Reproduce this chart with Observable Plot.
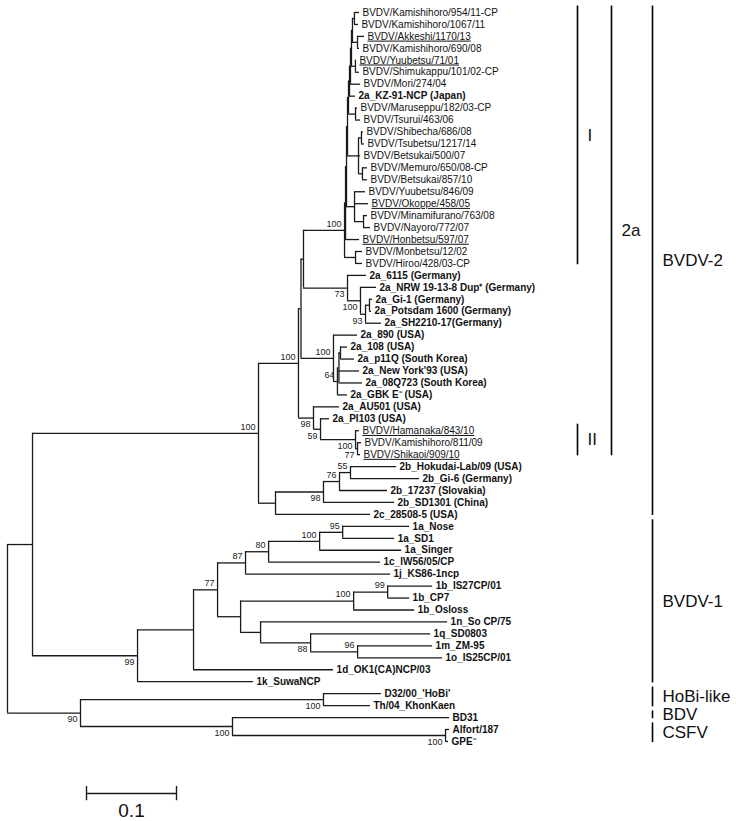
<!DOCTYPE html>
<html>
<head>
<meta charset="utf-8">
<script src="https://cdn.jsdelivr.net/npm/d3@7"></script>
<script src="https://cdn.jsdelivr.net/npm/@observablehq/plot@0.6"></script>
<style>
  html, body { margin: 0; padding: 0; background: #fff; }
  #chart { width: 736px; height: 821px; }
</style>
</head>
<body>
<div id="chart"></div>
<script>
// ---------- DATA ----------
// Leaves, top to bottom
const leafLabels = [
  "BVDV/Kamishihoro/954/11-CP","BVDV/Kamishihoro/1067/11","BVDV/Akkeshi/1170/13","BVDV/Kamishihoro/690/08",
  "BVDV/Yuubetsu/71/01","BVDV/Shimukappu/101/02-CP","BVDV/Mori/274/04","2a_KZ-91-NCP (Japan)",
  "BVDV/Maruseppu/182/03-CP","BVDV/Tsurui/463/06","BVDV/Shibecha/686/08","BVDV/Tsubetsu/1217/14",
  "BVDV/Betsukai/500/07","BVDV/Memuro/650/08-CP","BVDV/Betsukai/857/10","BVDV/Yuubetsu/846/09",
  "BVDV/Okoppe/458/05","BVDV/Minamifurano/763/08","BVDV/Nayoro/772/07","BVDV/Honbetsu/597/07",
  "BVDV/Monbetsu/12/02","BVDV/Hiroo/428/03-CP","2a_6115 (Germany)","2a_NRW 19-13-8 Dup\u207A (Germany)",
  "2a_Gi-1 (Germany)","2a_Potsdam 1600 (Germany)","2a_SH2210-17(Germany)","2a_890 (USA)",
  "2a_108 (USA)","2a_p11Q (South Korea)","2a_New York'93 (USA)","2a_08Q723 (South Korea)",
  "2a_GBK E\u207B (USA)","2a_AU501 (USA)","2a_PI103 (USA)","BVDV/Hamanaka/843/10",
  "BVDV/Kamishihoro/811/09","BVDV/Shikaoi/909/10","2b_Hokudai-Lab/09 (USA)","2b_Gi-6 (Germany)",
  "2b_17237 (Slovakia)","2b_SD1301 (China)","2c_28508-5 (USA)","1a_Nose",
  "1a_SD1","1a_Singer","1c_IW56/05/CP","1j_KS86-1ncp",
  "1b_IS27CP/01","1b_CP7","1b_Osloss","1n_So CP/75",
  "1q_SD0803","1m_ZM-95","1o_IS25CP/01","1d_OK1(CA)NCP/03",
  "1k_SuwaNCP","D32/00_'HoBi'","Th/04_KhonKaen","BD31",
  "Alfort/187","GPE\u207B"
];
const leafParents = [
  "P1","P1","P2","P2","P3","P3","L3","L4","P6","P6","SS","SS","S","SM","SM","Y","Y","YM","YM","L8",
  "P10","P10","T73","T100","GP","GP","T93","G890","I1","I1","I2","I2","C108","AU","PI","H",
  "H2","H2","N55","N55","N76","N98","N2bc","N95","N95","N1a","N80","N87","B2","B2","B1b","P",
  "N88","N96","N96","V1a","V1","HB","HB","BC","CS","CS"
];
const leafLengths = [
  0.0056,0.0044,0.0078,0.0022,0.0011,0.0044,0.0111,0.0067,0.0022,0.0056,0.0022,0.0033,0.0022,0.0056,0.0056,0.0122,
  0.0156,0.0044,0.0078,0.0156,0.0078,0.0078,0.0211,0.0178,0.0033,0.0022,0.0178,0.0267,0.0078,0.0156,0.0228,0.0261,
  0.0111,0.0289,0.0100,0.0044,0.0044,0.0033,0.0511,0.0767,0.0533,0.0789,0.1056,0.0744,0.0578,0.0911,0.1244,0.1611,
  0.0500,0.0244,0.0678,0.2078,0.1333,0.0833,0.0944,0.1556,0.1289,0.0644,0.0522,0.2411,0.0044,0.0033
];
const underlinedLeaves = ["BVDV/Akkeshi/1170/13","BVDV/Yuubetsu/71/01","BVDV/Okoppe/458/05",
  "BVDV/Honbetsu/597/07","BVDV/Hamanaka/843/10","BVDV/Shikaoi/909/10"];

// Internal nodes
const nodeIds     = ["root","V12","V2","A2a","A","X","J","L8","L7","L6","L5","L4","L3","L2","L1","P1","P2","P3","P6","S","SS","SM","Y","YM","P10",
  "T73","T100","T93","GP","G890","C108","I2","I1","AU","PI","H","H2","N2bc","N98","N76","N55",
  "V1","V1a","K","N87","N80","N1a","N95","M","B1b","B2","P","N88","N96","PN","HB","BC","CS"];
const nodeParents = [null,"root","V12","V2","A2a","A","X","J","L8","L7","L6","L5","L4","L3","L2","L1","L1","L2","L5","L6","S","S","L7","Y","J",
  "X","T73","T100","T93","A","G890","C108","I2","A2a","AU","PI","H","V2","N2bc","N98","N76",
  "V12","V1","V1a","K","N87","N80","N1a","K","M","B1b","M","P","N88","root","PN","PN","BC"];
const nodeLengths = [0,0.0278,0.2511,0.0444,0.0028,0.0028,0.0456,0.0011,0.0011,0.0011,0.0011,0.0011,0.0011,0.0011,0.0011,0.0022,0.0056,0.0044,0.0078,0.0122,0.0033,0.0044,0.0089,0.0100,0.0122,
  0.0489,0.0144,0.0056,0.0044,0.0361,0.0044,0.0017,0.0017,0.0167,0.0078,0.0389,0.0022,0.0189,0.0533,0.0178,0.0122,
  0.1167,0.0622,0.0267,0.0311,0.0256,0.0567,0.0256,0.0256,0.1256,0.0378,0.0222,0.0556,0.0522,0.0811,0.2700,0.1689,0.2367];
const nodeSupport = [null,null,100,100,null,null,100,null,null,null,null,null,null,null,null,null,null,null,null,null,null,null,null,null,null,
  73,100,93,null,100,64,null,null,98,59,100,77,null,98,76,55,
  99,null,77,87,80,100,95,null,100,99,null,88,96,90,100,100,100];
// side of the node the support value is printed on: "a" above, "b" below
const supportSide = ["","","a","a","","","a","","","","","","","","","","","","","","","","","","",
  "b","b","b","","a","a","","","b","b","b","b","","b","a","a",
  "b","","a","a","a","a","a","","a","a","","b","a","b","b","b","b"];

// Clade bars on the right
const groupNames = ["I","II","2a","BVDV-2","BVDV-1","HoBi-like","BDV","CSFV"];
const groupFirst = ["BVDV/Kamishihoro/954/11-CP","BVDV/Hamanaka/843/10","BVDV/Kamishihoro/954/11-CP","BVDV/Kamishihoro/954/11-CP","1a_Nose","D32/00_'HoBi'","BD31","Alfort/187"];
const groupLast  = ["BVDV/Hiroo/428/03-CP","BVDV/Shikaoi/909/10","BVDV/Shikaoi/909/10","2c_28508-5 (USA)","1k_SuwaNCP","Th/04_KhonKaen","BD31","GPE\u207B"];
const groupLevel = [1,1,2,3,3,3,3,3];

const scaleBarLength = 0.1;
const scaleBarLabel = "0.1";

// ---------- TREE LAYOUT ----------
const nodes = new Map();
nodeIds.forEach((id, i) => nodes.set(id, {id, parent: nodeParents[i], len: nodeLengths[i], support: nodeSupport[i], side: supportSide[i], children: [], leaf: false}));
leafLabels.forEach((lab, i) => nodes.set("leaf" + i, {id: "leaf" + i, label: lab, parent: leafParents[i], len: leafLengths[i], children: [], leaf: true, order: i}));
for (const n of nodes.values()) if (n.parent) nodes.get(n.parent).children.push(n);
function place(n, x0) {
  n.x = x0 + n.len;
  n.children.forEach(c => place(c, n.x));
  if (n.leaf) { n.y = n.order; }
  else {
    const ys = n.children.map(c => c.y);
    n.ymin = d3.min(ys); n.ymax = d3.max(ys);
    n.y = (n.ymin + n.ymax) / 2;
  }
}
const root = nodes.get("root");
place(root, 0);
const all = Array.from(nodes.values());
const horiz = all.filter(n => n.parent).map(n => ({x1: nodes.get(n.parent).x, x2: n.x, y: n.y}));
const vert = all.filter(n => !n.leaf).map(n => ({x: n.x, y1: n.ymin, y2: n.ymax}));
const leaves = all.filter(n => n.leaf);
const supports = all.filter(n => n.support != null);

// layout constants (pixels converted through the x scale unit)
const pxPerUnit = 900;
const x0px = 7;
const toX = px => (px - x0px) / pxPerUnit;
const levelX = {1: toX(577), 2: toX(611), 3: toX(652)};
const leafIndex = new Map(leafLabels.map((l, i) => [l, i]));
const groups = groupNames.map((g, i) => {
  const y1 = leafIndex.get(groupFirst[i]) - 0.55, y2 = leafIndex.get(groupLast[i]) + 0.1;
  return {name: g, x: levelX[groupLevel[i]], y1, y2, ym: (y1 + y2) / 2};
});
const nLeaf = leafLabels.length;
const barStart = toX(86);
const scaleBar = [{x1: barStart, x2: barStart + scaleBarLength, y: nLeaf - 1 + 4.36, label: scaleBarLabel}];

const font = "Liberation Sans, Arial, Helvetica, sans-serif";
const isBold = l => !l.startsWith("BVDV/");

const plot = Plot.plot({
  width: 736,
  height: 821,
  margin: 0,
  x: {domain: [0, 729 / pxPerUnit], range: [7, 736], axis: null},
  y: {domain: [0, 61], range: [12, 12 + 61 * 11.95], axis: null},
  style: {background: "#fff", fontFamily: font},
  marks: [
    Plot.ruleY(horiz, {y: "y", x1: "x1", x2: "x2", stroke: "#1a1a1a", strokeWidth: 1.3}),
    Plot.ruleX(vert, {x: "x", y1: "y1", y2: "y2", stroke: "#1a1a1a", strokeWidth: 1.3}),
    Plot.text(leaves.filter(d => !isBold(d.label)), {x: "x", y: "y", text: "label", textAnchor: "start", dx: 3, fontSize: 10, fill: "#111", fontFamily: font}),
    Plot.text(leaves.filter(d => isBold(d.label)), {x: "x", y: "y", text: "label", textAnchor: "start", dx: 3, fontSize: 10, fontWeight: "bold", fill: "#111", fontFamily: font}),
    Plot.text(supports.filter(d => d.side === "a"), {x: "x", y: "y", text: d => String(d.support), textAnchor: "end", dx: -3, dy: -6.5, fontSize: 9, fill: "#222", fontFamily: font}),
    Plot.text(supports.filter(d => d.side === "b"), {x: "x", y: "y", text: d => String(d.support), textAnchor: "end", dx: -3, dy: 6.5, fontSize: 9, fill: "#222", fontFamily: font}),
    Plot.ruleX(groups, {x: "x", y1: "y1", y2: "y2", stroke: "#000", strokeWidth: 1.6}),
    Plot.text(groups, {x: "x", y: "ym", text: "name", textAnchor: "start", dx: 10, fontSize: 17, fill: "#111", fontFamily: font}),
    Plot.ruleY(scaleBar, {y: "y", x1: "x1", x2: "x2", stroke: "#1a1a1a", strokeWidth: 1.4}),
    Plot.ruleX(scaleBar.flatMap(d => [{x: d.x1, y: d.y}, {x: d.x2, y: d.y}]), {x: "x", y1: d => d.y - 0.6, y2: d => d.y + 0.6, stroke: "#1a1a1a", strokeWidth: 1.4}),
    Plot.text(scaleBar, {x: d => (d.x1 + d.x2) / 2, y: d => d.y + 1.45, text: "label", fontSize: 19, fill: "#111", fontFamily: font})
  ]
});
const ul = new Set(underlinedLeaves);
plot.querySelectorAll("text").forEach(t => { if (ul.has(t.textContent)) t.style.textDecoration = "underline"; });
document.getElementById("chart").appendChild(plot);
</script>
</body>
</html>
